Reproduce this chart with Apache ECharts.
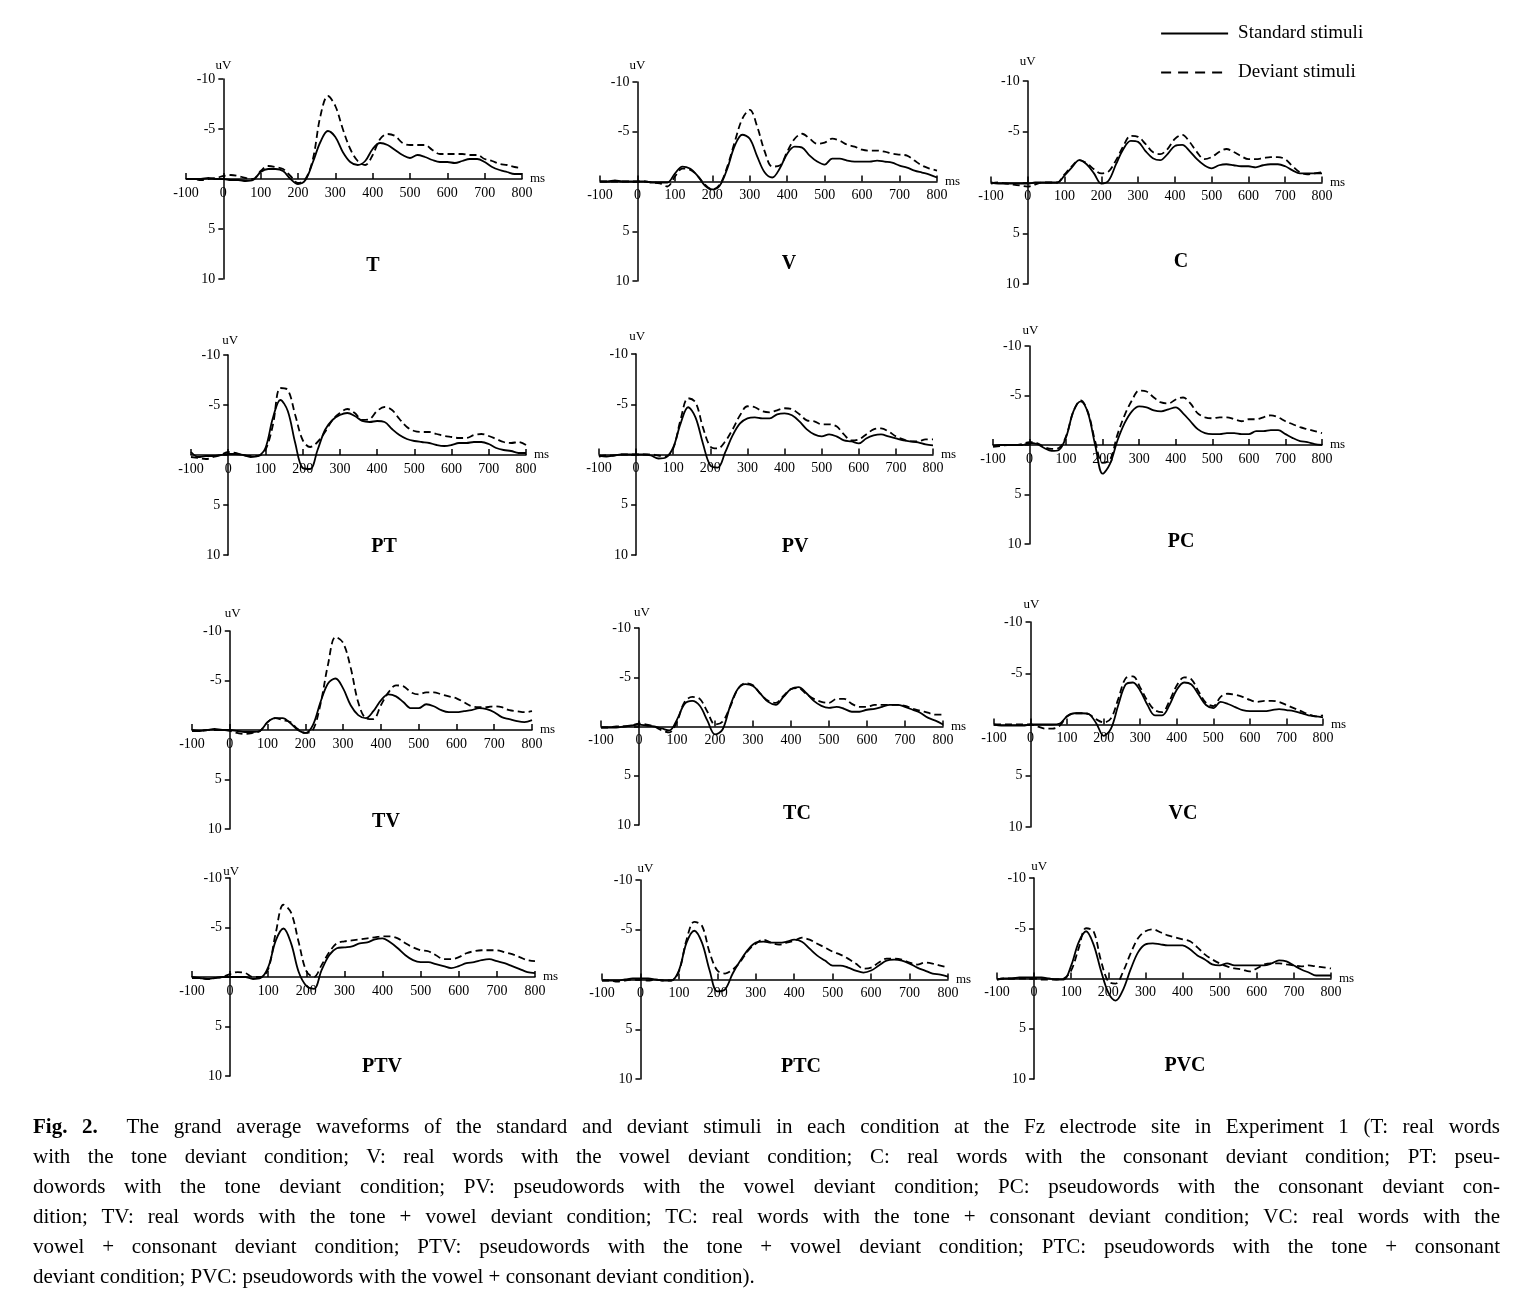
<!DOCTYPE html>
<html>
<head>
<meta charset="utf-8">
<script src="https://cdn.jsdelivr.net/npm/echarts@6/dist/echarts.min.js"></script>
<style>
html,body{margin:0;padding:0;background:#fff;}
#chart{position:absolute;left:0;top:0;width:1528px;height:1295px;}
#caption{position:absolute;left:33px;top:1111px;width:1467px;font-family:'Liberation Serif',serif;font-size:21px;line-height:30px;color:#000;}
#caption div{text-align:justify;text-align-last:justify;}
#caption div.last{text-align-last:left;}
</style>
</head>
<body>
<div id="chart"></div>
<div id="caption">
<div><b>Fig. 2.</b>&nbsp; The grand average waveforms of the standard and deviant stimuli in each condition at the Fz electrode site in Experiment 1 (T: real words</div>
<div>with the tone deviant condition; V: real words with the vowel deviant condition; C: real words with the consonant deviant condition; PT: pseu-</div>
<div>dowords with the tone deviant condition; PV: pseudowords with the vowel deviant condition; PC: pseudowords with the consonant deviant con-</div>
<div>dition; TV: real words with the tone + vowel deviant condition; TC: real words with the tone + consonant deviant condition; VC: real words with the</div>
<div>vowel + consonant deviant condition; PTV: pseudowords with the tone + vowel deviant condition; PTC: pseudowords with the tone + consonant</div>
<div class="last">deviant condition; PVC: pseudowords with the vowel + consonant deviant condition).</div>
</div>
<script>
// ---- data (time in ms, amplitude in uV; negative plotted upward) ----
const times = [-100,-80,-60,-40,-20,0,20,40,60,80,100,120,140,160,180,200,220,240,260,280,300,320,340,360,380,400,420,440,460,480,500,520,540,560,580,600,620,640,660,680,700,720,740,760,780,800];

const T_standard = [0,0,0,-0.1,0,0,0.1,0.1,0.2,0.1, -0.7,-1.0,-1.0,-0.8,0,0.5,0.1,-1.7,-3.7,-4.8, -4.2,-2.7,-1.7,-1.4,-1.8,-3.0,-3.6,-3.4,-2.9,-2.4, -2.1,-2.4,-2.2,-1.9,-1.7,-1.7,-1.6,-1.8,-2.0,-2.0, -1.7,-1.2,-0.9,-0.7,-0.5,-0.5];
const T_deviant = [0,0,0.1,0,-0.1,-0.3,-0.4,-0.3,-0.1,0, -0.8,-1.3,-1.2,-1.0,-0.3,0.4,0.0,-2.0,-6.3,-8.3, -7.3,-5.0,-3.0,-1.8,-1.4,-2.4,-4.0,-4.5,-4.3,-3.6, -3.4,-3.4,-3.4,-2.9,-2.5,-2.5,-2.5,-2.5,-2.4,-2.4, -2.0,-1.8,-1.5,-1.4,-1.2,-1.1];

const V_standard = [0,0,-0.1,0,0,0,0,0.1,0.1,0.1, -0.8,-1.5,-1.3,-0.6,0.4,0.8,0.4,-1.3,-3.6,-4.7, -4.3,-2.5,-0.9,-0.4,-1.3,-2.8,-3.5,-3.4,-2.6,-2.0, -1.7,-2.3,-2.3,-2.1,-2.0,-2.0,-2.0,-2.1,-2.0,-1.9, -1.6,-1.4,-1.1,-0.9,-0.7,-0.4];
const V_deviant = [0,0,0,0,0,0,0,0.1,0.2,0.5, -0.5,-1.3,-1.2,-0.6,0.3,0.8,0.3,-1.5,-4.0,-6.3, -7.2,-5.5,-3.0,-1.5,-1.6,-3.0,-4.3,-4.8,-4.3,-3.8, -3.9,-4.3,-4.1,-3.7,-3.5,-3.2,-3.1,-3.1,-3.0,-2.8, -2.7,-2.6,-2.1,-1.6,-1.3,-1.1];

const C_standard = [0,0.1,0.1,0.1,0.1,0.1,0,0,0,0, -0.7,-1.5,-2.2,-1.8,-0.9,0.1,-0.2,-1.8,-3.3,-4.1, -4.0,-3.1,-2.4,-2.2,-2.8,-3.6,-3.7,-3.1,-2.3,-1.7, -1.4,-1.7,-1.8,-1.7,-1.6,-1.6,-1.5,-1.7,-1.8,-1.8, -1.6,-1.2,-0.9,-0.9,-0.9,-0.9];
const C_deviant = [0.1,0,0.1,0.2,0.3,0.4,0.2,0,0,0, -0.8,-1.6,-2.2,-1.9,-1.3,-0.9,-1.1,-2.2,-3.6,-4.6, -4.5,-3.8,-3.0,-2.8,-3.3,-4.3,-4.7,-4.0,-3.0,-2.3, -2.5,-3.0,-3.3,-3.0,-2.6,-2.3,-2.3,-2.4,-2.5,-2.5, -2.3,-1.6,-1.0,-0.8,-0.9,-1.0];

const PT_standard = [-0.3,0.2,0.1,0.1,0,-0.1,-0.1,0,0.2,0.1, -0.7,-3.7,-5.5,-4.4,-1.2,1.3,1.4,-0.5,-2.5,-3.5, -4.0,-4.2,-3.9,-3.4,-3.3,-3.4,-3.3,-2.6,-2.0,-1.6, -1.4,-1.3,-1.2,-1.0,-0.9,-1.0,-1.2,-1.2,-1.3,-1.3, -1.1,-0.7,-0.5,-0.4,-0.2,-0.2];
const PT_deviant = [0.2,0.3,0.4,0.2,0,-0.3,-0.2,0,0.1,0.1, -0.5,-3.0,-6.7,-6.5,-4.0,-1.5,-0.8,-1.3,-2.3,-3.5, -4.2,-4.6,-4.2,-3.5,-3.6,-4.4,-4.8,-4.5,-3.6,-2.8, -2.4,-2.3,-2.3,-2.1,-1.9,-1.8,-1.7,-1.7,-2.0,-2.1, -1.9,-1.6,-1.3,-1.2,-1.3,-1.0];

const PV_standard = [0.1,0.2,0.1,0,0,0,0,0.1,0.4,0.3, -0.7,-3.1,-4.7,-3.7,-1.1,1.1,1.3,-0.2,-1.9,-3.1, -3.6,-3.7,-3.6,-3.6,-4.0,-4.1,-3.9,-3.3,-2.5,-2.0, -1.8,-2.0,-1.8,-1.4,-1.3,-1.1,-1.6,-1.9,-2.0,-1.8, -1.6,-1.4,-1.3,-1.2,-1.0,-0.9];
const PV_deviant = [0.2,0.1,0.1,0,0,0,0,0,0.1,0.2, -0.6,-3.5,-5.6,-5.2,-2.7,-0.8,-0.6,-1.3,-2.5,-3.9, -4.8,-4.7,-4.3,-4.2,-4.4,-4.6,-4.5,-4.0,-3.4,-3.3, -3.0,-3.0,-2.8,-2.0,-1.4,-1.5,-2.0,-2.5,-2.6,-2.3, -1.8,-1.5,-1.3,-1.3,-1.5,-1.5];

const PC_standard = [0.1,0,0,0,0,-0.2,-0.1,0.3,0.6,0.5, -0.8,-3.4,-4.4,-3.2,0.1,2.9,1.9,-0.4,-2.2,-3.4, -3.9,-3.8,-3.5,-3.4,-3.6,-3.8,-3.2,-2.4,-1.6,-1.2, -1.1,-1.1,-1.2,-1.2,-1.1,-1.1,-1.4,-1.4,-1.5,-1.5, -1.1,-0.7,-0.4,-0.3,-0.1,0];
const PC_deviant = [0.2,0.1,0,0,-0.1,-0.3,-0.2,0.2,0.4,0.3, -0.9,-3.4,-4.5,-3.3,-0.3,1.8,1.5,-1.0,-3.0,-4.5, -5.5,-5.4,-4.8,-4.3,-4.2,-4.6,-4.8,-4.2,-3.2,-2.8, -2.7,-2.8,-2.8,-2.6,-2.4,-2.6,-2.6,-2.8,-3.0,-2.8, -2.4,-2.1,-1.8,-1.6,-1.4,-1.2];

const TV_standard = [0.1,0.1,0,-0.1,0,0,0.1,0.2,0.2,0.1, -0.8,-1.2,-1.2,-0.7,0,0.3,-0.5,-2.8,-4.7,-5.2, -4.2,-2.5,-1.5,-1.2,-1.9,-3.0,-3.6,-3.4,-2.8,-2.2, -2.2,-2.6,-2.4,-2.0,-1.8,-1.8,-1.9,-2.0,-2.2,-2.1, -1.8,-1.3,-1.1,-0.9,-0.8,-1.0];
const TV_deviant = [0,0.1,0,0,0,0.1,0.3,0.4,0.3,0.1, -0.8,-1.2,-1.0,-0.8,-0.1,0.3,0,-2.6,-6.6,-9.4, -8.8,-6.3,-2.8,-1.2,-1.1,-2.5,-3.8,-4.5,-4.4,-3.8, -3.6,-3.8,-3.8,-3.6,-3.4,-3.2,-2.8,-2.4,-2.3,-2.3, -2.4,-2.3,-2.0,-1.9,-1.8,-1.9];

const TC_standard = [0.1,0.1,0.1,0,-0.1,-0.2,-0.1,0,0.2,0.4, -0.7,-2.3,-2.6,-2.1,-0.6,0.8,0.3,-2.1,-3.8,-4.3, -4.1,-3.3,-2.5,-2.2,-3.0,-3.8,-4.0,-3.4,-2.6,-2.1, -1.9,-2.0,-1.8,-1.5,-1.5,-1.7,-1.8,-2.0,-2.2,-2.2, -2.0,-1.7,-1.4,-0.9,-0.6,-0.2];
const TC_deviant = [0.1,0.1,0,0,-0.1,-0.3,-0.2,0,0.4,0.6, -0.5,-2.5,-3.0,-2.8,-1.5,-0.2,-0.5,-2.0,-3.8,-4.4, -4.2,-3.3,-2.6,-2.4,-3.1,-3.8,-3.9,-3.3,-2.8,-2.5, -2.4,-2.8,-2.8,-2.3,-2.0,-2.0,-2.2,-2.2,-2.2,-2.2, -2.1,-1.8,-1.6,-1.4,-1.2,-1.2];

const VC_standard = [0,0.1,0.1,0.1,0.1,0,0,0,0,-0.1, -0.8,-1.1,-1.1,-1.0,-0.1,1.1,0.4,-1.9,-3.9,-4.1, -3.3,-1.9,-0.9,-0.9,-1.9,-3.4,-4.1,-3.9,-2.9,-1.9, -1.6,-2.2,-2.0,-1.7,-1.4,-1.3,-1.3,-1.3,-1.4,-1.5, -1.4,-1.3,-1.1,-0.9,-0.8,-0.7];
const VC_deviant = [0,0,0,0,0,0,0.2,0.4,0.4,0.1, -0.8,-1.1,-1.1,-1.0,-0.5,-0.2,-0.6,-2.5,-4.5,-4.7, -3.6,-2.3,-1.4,-1.2,-2.3,-3.8,-4.6,-4.4,-3.2,-2.1, -1.8,-2.7,-3.0,-2.9,-2.7,-2.4,-2.2,-2.3,-2.3,-2.2, -1.9,-1.6,-1.3,-1.0,-0.8,-0.9];

const PTV_standard = [0,0.1,0.2,0.1,0,0,0,0,0.2,0.1, -1.0,-3.7,-4.9,-3.4,-0.5,0.9,1.2,-0.7,-2.2,-2.9, -3.0,-3.1,-3.4,-3.5,-3.8,-3.9,-3.5,-2.9,-2.2,-1.7, -1.5,-1.5,-1.3,-1.1,-0.9,-1.1,-1.4,-1.5,-1.7,-1.8, -1.6,-1.4,-1.1,-0.8,-0.5,-0.4];
const PTV_deviant = [0.1,0.1,0.2,0.1,0,-0.3,-0.5,-0.4,0,0, -0.8,-4.5,-7.3,-6.5,-3.5,-0.6,0.0,-1.2,-2.5,-3.4, -3.6,-3.7,-3.8,-3.9,-4.0,-4.1,-4.1,-3.9,-3.4,-3.0, -2.7,-2.6,-2.2,-1.8,-1.8,-2.0,-2.4,-2.6,-2.7,-2.7, -2.7,-2.5,-2.3,-2.0,-1.7,-1.6];

const PTC_standard = [0.1,0.1,0.1,0,-0.1,-0.1,-0.1,0,0.1,0.1, -0.9,-3.7,-4.9,-3.7,-0.9,1.2,1.0,-0.6,-1.9,-3.0, -3.7,-3.8,-3.7,-3.7,-3.8,-4.0,-3.8,-3.1,-2.4,-1.9, -1.4,-1.4,-1.2,-0.9,-0.7,-0.9,-1.4,-1.9,-2.0,-1.9, -1.6,-1.2,-0.9,-0.6,-0.5,-0.3];
const PTC_deviant = [0.1,0.1,0.2,0.1,0,0,0.1,0,0.1,0.1, -0.8,-4.0,-5.8,-5.4,-2.7,-0.9,-0.6,-1.0,-1.8,-2.9, -3.6,-4.0,-3.7,-3.5,-3.7,-3.9,-4.2,-4.0,-3.6,-3.2, -2.8,-2.5,-2.1,-1.6,-1.1,-1.2,-1.7,-2.1,-2.1,-2.0, -1.7,-1.5,-1.7,-1.6,-1.4,-1.2];

const PVC_standard = [0.1,0,0,-0.1,-0.1,-0.1,-0.1,0,0.1,0.1, -1.3,-3.6,-4.7,-3.4,-0.8,1.4,2.2,1.1,-0.9,-2.6, -3.4,-3.5,-3.4,-3.3,-3.3,-3.3,-2.9,-2.3,-1.9,-1.4, -1.3,-1.5,-1.3,-1.3,-1.3,-1.3,-1.3,-1.5,-1.8,-1.7, -1.3,-0.9,-0.6,-0.3,-0.3,-0.3];
const PVC_deviant = [0.1,0,0,0,0,0,0.1,0.1,0.1,0, -0.8,-3.0,-5.0,-4.7,-1.8,0.3,0.5,-0.7,-2.5,-4.0, -4.7,-4.9,-4.6,-4.3,-4.1,-3.9,-3.7,-3.1,-2.4,-1.9, -1.5,-1.2,-1.0,-0.9,-0.7,-1.0,-1.4,-1.5,-1.5,-1.4, -1.3,-1.2,-1.3,-1.2,-1.1,-1.0];

const panelNames = ['T','V','C','PT','PV','PC','TV','TC','VC','PTV','PTC','PVC'];
const standardData = [T_standard,V_standard,C_standard,PT_standard,PV_standard,PC_standard,TV_standard,TC_standard,VC_standard,PTV_standard,PTC_standard,PVC_standard];
const deviantData = [T_deviant,V_deviant,C_deviant,PT_deviant,PV_deviant,PC_deviant,TV_deviant,TC_deviant,VC_deviant,PTV_deviant,PTC_deviant,PVC_deviant];
const legendNames = ['Standard stimuli','Deviant stimuli'];
const xAxisRange = [-100, 800, 100];   // min, max, interval
const yAxisRange = [-10, 10, 5];       // min, max, interval
const xUnit = 'ms';
const yUnit = 'uV';

// ---- layout (pixels): grid left, top, width, height, title x, title y, unit gap, unit dx ----
const layout = [
  [186, 79, 336, 200, 373, 266, 7, 0],
  [600, 82, 337, 199, 789, 264, 10, 0],
  [991, 81, 331, 203, 1181, 262, 13, 0],
  [191, 355, 335, 200, 384, 547, 8, 2],
  [599, 354, 334, 201, 795, 547, 11, 1],
  [993, 346, 329, 198, 1181, 542, 9, 1],
  [192, 631, 340, 198, 386, 822, 11, 3],
  [601, 628, 342, 197, 797, 814, 9, 3],
  [994, 622, 329, 205, 1183, 814, 11, 1],
  [192, 878, 343, 198, 382, 1067, 0, 1],
  [602, 880, 346, 199, 801, 1067, 5, 5],
  [997, 878, 334, 201, 1185, 1066, 5, 5]
];

const FONT = '"Liberation Serif", "Times New Roman", serif';
const grids = [], xAxes = [], yAxes = [], series = [], graphics = [];
const xSpan = xAxisRange[1] - xAxisRange[0];
const ySpan = yAxisRange[1] - yAxisRange[0];
panelNames.forEach((name, i) => {
  const L = layout[i];
  grids.push({left: L[0], top: L[1], width: L[2], height: L[3]});
  // axes cross at (0 ms, 0 uV): shift each axis from the grid edge to the zero line
  const xShift = L[3] * (yAxisRange[1] - 0) / ySpan;         // from bottom edge up to 0 uV
  const yShift = L[2] * (0 - xAxisRange[0]) / xSpan;         // from left edge right to 0 ms
  xAxes.push({
    type: 'value', gridIndex: i, min: xAxisRange[0], max: xAxisRange[1], interval: xAxisRange[2],
    position: 'bottom', offset: -xShift,
    name: xUnit, nameLocation: 'end', nameGap: 8, nameMoveOverlap: false,
    nameTextStyle: {fontFamily: FONT, fontSize: 13, color: '#000', padding: [0, 0, 4, 0]},
    axisLine: {onZero: false, lineStyle: {color: '#000', width: 1.5}},
    axisTick: {show: true, inside: true, length: 6, lineStyle: {color: '#000', width: 1.5}},
    axisLabel: {fontFamily: FONT, fontSize: 14, color: '#000', margin: 7},
    splitLine: {show: false}
  });
  yAxes.push({
    type: 'value', gridIndex: i, min: yAxisRange[0], max: yAxisRange[1], interval: yAxisRange[2], inverse: true,
    position: 'left', offset: -yShift,
    name: yUnit, nameLocation: 'start', nameGap: L[6], nameMoveOverlap: false,
    nameTextStyle: {fontFamily: FONT, fontSize: 13, color: '#000', align: 'center', verticalAlign: 'bottom', padding: [0, 0, 0, L[7] * 2]},
    axisLine: {onZero: false, lineStyle: {color: '#000', width: 1.5}},
    axisTick: {show: true, inside: false, length: 5, lineStyle: {color: '#000', width: 1.5}},
    axisLabel: {fontFamily: FONT, fontSize: 14, color: '#000', margin: 8, formatter: v => (v === 0 ? '' : String(v))},
    splitLine: {show: false}
  });
  series.push({
    name: legendNames[0], type: 'line', xAxisIndex: i, yAxisIndex: i,
    data: times.map((t, k) => [t, standardData[i][k]]),
    symbol: 'none', showSymbol: false, smooth: 0.35, silent: true,
    lineStyle: {color: '#000', width: 1.8, type: 'solid'}, itemStyle: {color: '#000'}
  });
  series.push({
    name: legendNames[1], type: 'line', xAxisIndex: i, yAxisIndex: i,
    data: times.map((t, k) => [t, deviantData[i][k]]),
    symbol: 'none', showSymbol: false, smooth: 0.35, silent: true,
    lineStyle: {color: '#000', width: 1.8, type: [7, 4]}, itemStyle: {color: '#000'}
  });
  graphics.push({
    type: 'text', x: L[4], y: L[5], silent: true,
    style: {text: name, font: 'bold 20px ' + FONT, fill: '#000',
            textAlign: 'center', textVerticalAlign: 'middle', align: 'center', verticalAlign: 'middle'}
  });
});

const chart = echarts.init(document.getElementById('chart'), null, {renderer: 'canvas'});
chart.setOption({
  animation: false,
  backgroundColor: '#fff',
  color: ['#000'],
  legend: {
    data: [
      {name: legendNames[0], lineStyle: {width: 2.2, type: 'solid'}},
      {name: legendNames[1], lineStyle: {width: 2.2, type: [10, 7]}}
    ],
    orient: 'vertical', left: 1155, top: 19,
    itemWidth: 67, itemHeight: 14, itemGap: 20, selectedMode: false,
    itemStyle: {opacity: 0},
    textStyle: {fontFamily: FONT, fontSize: 19, color: '#000', padding: [0, 0, 0, 5]}
  },
  grid: grids, xAxis: xAxes, yAxis: yAxes, series: series,
  graphic: graphics
});
</script>
</body>
</html>
